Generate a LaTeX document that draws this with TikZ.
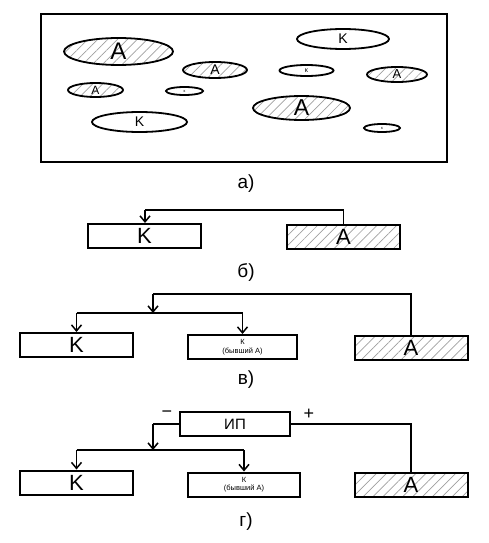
\documentclass[tikz,border=0pt]{standalone}
\usepackage{fontspec}
\setmainfont{Liberation Sans}
\usetikzlibrary{patterns.meta,arrows.meta,shapes.geometric}
\begin{document}
\begin{tikzpicture}[x=1pt,y=-1pt,
  hatch/.style={pattern={Lines[angle=45,distance=7pt,line width=0.7pt]},pattern color=gray!75},
  ell/.style={ellipse,draw,line width=1.8pt,inner sep=0pt},
  box/.style={rectangle,draw,line width=2pt,inner sep=0pt,minimum width=113pt,minimum height=24pt},
  wire/.style={line width=1.6pt},
  arr/.style={line width=1.6pt,-{Straight Barb[length=6pt,width=10pt,line width=1.5pt]}},
  captext/.style={font=\fontsize{19}{19}\selectfont}
]
\useasboundingbox (0,0) rectangle (488,543);
% a)
\node[draw,line width=2.2pt,rectangle,minimum width=406pt,minimum height=148pt,inner sep=0pt] (frame) at (244,88) {};
\node[ell,hatch,minimum width=109pt,minimum height=27pt,font=\fontsize{24}{24}\selectfont] (e1) at (118.5,51.5) {A};
\node[ell,hatch,minimum width=64pt,minimum height=16pt,font=\fontsize{14}{14}\selectfont] (e2) at (215,70) {A};
\node[ell,minimum width=54pt,minimum height=11pt,font=\fontsize{7}{7}\selectfont] (e3) at (306.5,70.5) {к};
\node[ell,minimum width=92pt,minimum height=20pt,font=\fontsize{14}{14}\selectfont] (e4) at (343,39) {K};
\node[ell,hatch,minimum width=60pt,minimum height=15pt,font=\fontsize{13}{13}\selectfont] (e5) at (397,74.5) {A};
\node[ell,hatch,minimum width=55pt,minimum height=14pt,font=\fontsize{12}{12}\selectfont] (e6) at (95.5,90) {A};
\node[ell,minimum width=37pt,minimum height=8pt,font=\fontsize{4}{4}\selectfont] (e7) at (184.5,91) {к};
\node[ell,hatch,minimum width=97pt,minimum height=24pt,font=\fontsize{23}{23}\selectfont] (e8) at (301.5,108) {A};
\node[ell,minimum width=95pt,minimum height=20pt,font=\fontsize{14}{14}\selectfont] (e9) at (139.5,122) {K};
\node[ell,minimum width=36pt,minimum height=8pt,font=\fontsize{4}{4}\selectfont] (e10) at (382,128) {к};
\node[captext] (la) at (246,184) {а)};
% b)
\node[box,font=\fontsize{22}{22}\selectfont] (K1) at (144.5,236) {K};
\node[box,hatch,font=\fontsize{22}{22}\selectfont] (A1) at (343.5,237) {A};
\coordinate (b1) at (145,210);
\draw[wire] (A1.north) |- (b1);
\draw[arr] (b1) -- (b1 |- K1.north);
\node[captext] (lb) at (246,272) {б)};
% v)
\node[box,font=\fontsize{22}{22}\selectfont] (K2) at (76.5,345) {K};
\node[box,minimum width=109pt,align=center,font=\fontsize{7.5}{8.5}\selectfont] (M2) at (242.5,347) {К\\(бывший А)};
\node[box,hatch,font=\fontsize{22}{22}\selectfont] (A2) at (411,347.5) {A};
\coordinate (v1) at (153,294);
\coordinate (v2) at (153,313);
\draw[wire] (A2.north) |- (v1);
\draw[arr] (v1) -- (v2);
\draw[wire] (v2 -| K2.north) -- (v2 -| M2.north);
\draw[arr] (v2 -| K2.north) -- (K2.north);
\draw[arr] (v2 -| M2.north) -- (M2.north);
\node[captext] (lv) at (246,380) {в)};
% g)
\node[box,minimum width=110pt,font=\fontsize{15}{15}\selectfont] (P) at (235,424) {ИП};
\node[box,font=\fontsize{22}{22}\selectfont] (K3) at (76.5,482.5) {K};
\node[box,minimum width=112pt,align=center,font=\fontsize{7.5}{8.5}\selectfont] (M3) at (244,484.5) {К\\(бывший А)};
\node[box,hatch,font=\fontsize{22}{22}\selectfont] (A3) at (411,484.5) {A};
\coordinate (g1) at (153,450);
\draw[wire] (P.west) -| (g1 |- P.west);
\draw[arr] (g1 |- P.west) -- (g1);
\draw[wire] (P.east) -| (A3.north);
\draw[wire] (g1 -| K3.north) -- (g1 -| M3.north);
\draw[arr] (g1 -| K3.north) -- (K3.north);
\draw[arr] (g1 -| M3.north) -- (M3.north);
\node[font=\fontsize{18}{18}\selectfont] (minus) at (167,414) {−};
\node[font=\fontsize{18}{18}\selectfont] (plus) at (309,414) {+};
\node[captext] (lg) at (246,522) {г)};
\end{tikzpicture}
\end{document}
